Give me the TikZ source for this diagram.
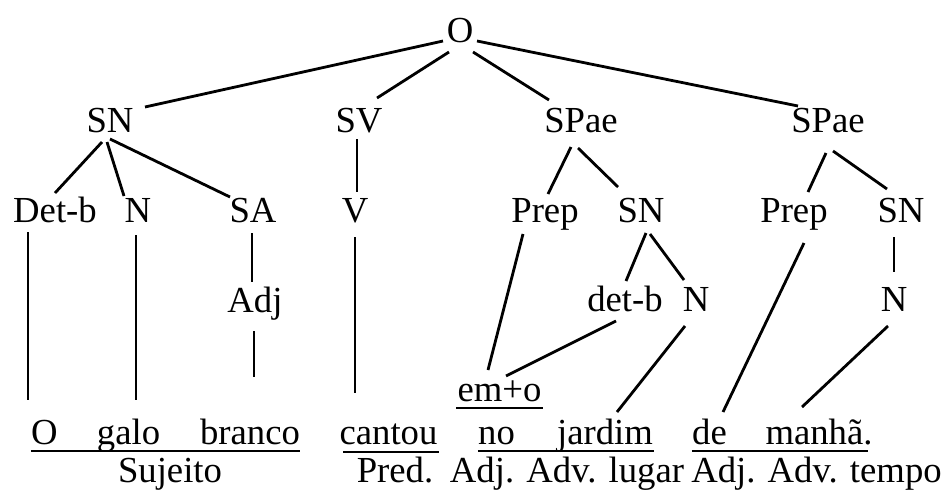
\documentclass[tikz,border=0pt]{standalone}
\usepackage{fontspec}
\setmainfont{Liberation Serif}
\newcommand\lnk[4]{\draw ([shift={#2}]#1.base) -- ([shift={#4}]#3.base);}
\begin{document}
\begin{tikzpicture}[x=1pt,y=-1pt,
  lbl/.style={inner sep=0pt,anchor=base,font=\fontsize{36.7}{40}\selectfont},
  every path/.style={line width=2.8pt,line cap=butt}]
\useasboundingbox (0,0) rectangle (945,496);
% level 0
\node[lbl] (O) at (460,42) {O};
% level 1
\node[lbl] (SN1) at (110,132) {SN};
\node[lbl] (SV) at (359,132) {SV};
\node[lbl] (SPae1) at (581,132) {SPae};
\node[lbl] (SPae2) at (828,132) {SPae};
% level 2
\node[lbl] (Detb) at (55,222) {Det-b};
\node[lbl] (N1) at (138,222) {N};
\node[lbl] (SA) at (253,222) {SA};
\node[lbl] (V) at (355,222) {V};
\node[lbl] (Prep1) at (545,222) {Prep};
\node[lbl] (SN2) at (641,222) {SN};
\node[lbl] (Prep2) at (794,222) {Prep};
\node[lbl] (SN3) at (901,222) {SN};
% level 3
\node[lbl] (Adj) at (255,312) {Adj};
\node[lbl] (detb2) at (625,311) {det-b};
\node[lbl] (N2) at (696,311) {N};
\node[lbl] (N3) at (894,311) {N};
% em+o
\node[lbl] (emo) at (499.5,401) {em+o};
% words
\node[lbl] (Ow) at (44.5,444) {O};
\node[lbl] (galo) at (128.5,444) {galo};
\node[lbl] (branco) at (250,444) {branco};
\node[lbl] (cantou) at (388.5,444) {cantou};
\node[lbl] (no) at (496.5,444) {no};
\node[lbl] (jardim) at (605,444) {jardim};
\node[lbl] (de) at (709.5,444) {de};
\node[lbl] (manha) at (819,444) {manhã.};
% functions
\node[lbl] (suj) at (170,482) {Sujeito};
\node[lbl] (pred) at (395,482) {Pred.};
\node[lbl] (lugar) at (567,482) {Adj. Adv. lugar};
\node[lbl] (tempo) at (816.5,482) {Adj. Adv. tempo};
% tree edges
\lnk{O}{(-17,-1)}{SN1}{(35,-25)}
\lnk{O}{(-11,10)}{SV}{(18,-34)}
\lnk{O}{(13,10)}{SPae1}{(-32,-32)}
\lnk{O}{(17,-1)}{SPae2}{(-30,-26)}
\lnk{SN1}{(-8,10)}{Detb}{(0,-29)}
\lnk{SN1}{(-3,10)}{N1}{(-14,-26)}
\lnk{SN1}{(0,7)}{SA}{(-23,-25)}
\lnk{SV}{(-2,7)}{V}{(2,-30)}
\lnk{SPae1}{(-10,15)}{Prep1}{(3,-28)}
\lnk{SPae1}{(-3,16)}{SN2}{(-23,-35)}
\lnk{SPae2}{(-2,21)}{Prep2}{(14,-30)}
\lnk{SPae2}{(5,19)}{SN3}{(-14,-33)}
\lnk{Detb}{(-27,10)}{Ow}{(-16.5,-44)}
\lnk{N1}{(-2,13)}{galo}{(7.5,-44)}
\lnk{SA}{(-1,11)}{Adj}{(-3,-30)}
\lnk{Adj}{(-1,19)}{branco}{(4,-67)}
\lnk{V}{(0,15)}{cantou}{(-33.5,-51)}
\lnk{Prep1}{(-22,12)}{emo}{(-11.5,-31)}
\lnk{SN2}{(5,11)}{detb2}{(1,-30)}
\lnk{SN2}{(9,12)}{N2}{(-12,-31)}
\lnk{detb2}{(-9,10)}{emo}{(6.5,-25)}
\lnk{N2}{(-11,15)}{jardim}{(12,-32)}
\lnk{Prep2}{(10,21)}{de}{(13.5,-32)}
\lnk{SN3}{(-7,15)}{N3}{(0,-39)}
\lnk{N3}{(-6,15)}{manha}{(-17,-37)}
% underlines
\draw ([shift={(1,7)}]Ow.base west) -- ([shift={(-1,7)}]branco.base east);
\draw ([shift={(5,8)}]cantou.base west) -- ([shift={(0,8)}]cantou.base east);
\draw ([shift={(0,7)}]emo.base west) -- ([shift={(0,7)}]emo.base east);
\draw ([shift={(1,7)}]no.base west) -- ([shift={(0,7)}]jardim.base east);
\draw ([shift={(1,7)}]de.base west) -- ([shift={(-6,7)}]manha.base east);
\end{tikzpicture}
\end{document}
